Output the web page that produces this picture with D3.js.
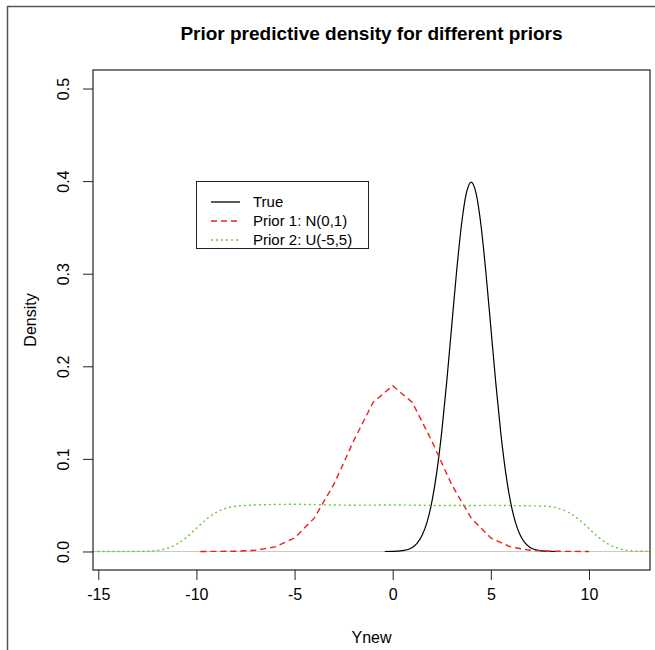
<!DOCTYPE html>
<html>
<head>
<meta charset="utf-8">
<script src="https://cdn.jsdelivr.net/npm/d3@7"></script>
<style>
  body { margin: 0; background: #fff; }
  text { font-family: "Liberation Sans", Arial, sans-serif; fill: #000; }
</style>
</head>
<body>
<svg id="chart"></svg>
<script>
var svgWidth = 655,
    svgHeight = 650,
    margin = {top: 70, right: 5, bottom: 80, left: 93},
    width = svgWidth - margin.left - margin.right,
    height = svgHeight - margin.top - margin.bottom;

// values
var xTicks = [-15, -10, -5, 0, 5, 10];
var yTicks = [0.0, 0.1, 0.2, 0.3, 0.4, 0.5];

var trueX = [-0.4, 0, 0.5, 1, 1.25, 1.5, 1.75, 2, 2.25, 2.5, 2.75, 3, 3.25, 3.5, 3.75, 4,
             4.25, 4.5, 4.75, 5, 5.25, 5.5, 5.75, 6, 6.25, 6.5, 7, 7.5, 8, 8.4];
var trueY = [0.0000, 0.0001, 0.0009, 0.0044, 0.0091, 0.0175, 0.0317, 0.0540, 0.0863, 0.1295, 0.1826, 0.2420, 0.3011, 0.3521, 0.3867, 0.3990,
             0.3867, 0.3521, 0.3011, 0.2420, 0.1826, 0.1295, 0.0863, 0.0540, 0.0317, 0.0175, 0.0044, 0.0009, 0.0001, 0.0000];

var prior1X = [-9.8, -9, -8, -7, -6, -5, -4, -3, -2, -1, 0, 1, 2, 3, 4, 5, 6, 7, 8, 9, 10];
var prior1Y = [0.0000, 0.0001, 0.0003, 0.0013, 0.0049, 0.0146, 0.0360, 0.0724, 0.1190, 0.1610, 0.1790,
               0.1610, 0.1190, 0.0724, 0.0360, 0.0146, 0.0049, 0.0013, 0.0003, 0.0001, 0.0000];

var prior2X = [-15.3, -14, -13, -12.5, -12, -11.5, -11, -10.5, -10, -9.5, -9, -8.5, -8, -7.5, -7,
               -6, -5, -4, -3, -2, -1, 0, 1, 2, 3, 4, 5, 6, 7, 7.5, 8, 8.5, 9, 9.5, 10, 10.5, 11, 11.5, 12, 12.5, 13, 13.5];
var prior2Y = [0.0000, 0.0000, 0.0001, 0.0003, 0.0011, 0.0033, 0.0079, 0.0154, 0.0250, 0.0346, 0.0421, 0.0467, 0.0489, 0.0497, 0.0502,
               0.0507, 0.0510, 0.0506, 0.0502, 0.0500, 0.0501, 0.0502, 0.0500, 0.0497, 0.0496, 0.0497, 0.0498, 0.0496, 0.0493, 0.0492, 0.0486, 0.0463, 0.0418, 0.0343, 0.0248, 0.0152, 0.0078, 0.0033, 0.0011, 0.0003, 0.0001, 0.0000];

var legendLabels = ["True", "Prior 1: N(0,1)", "Prior 2: U(-5,5)"];
var lineColors = ["#000000", "#e8231f", "#6cc63c"];
var lineDash = [null, "6,4", "2,3"];
// the red curve shows corners, the other two are smooth
var lineCurves = [d3.curveMonotoneX, d3.curveLinear, d3.curveMonotoneX];

var series = [
  trueX.map(function(x, i) { return {x: x, y: trueY[i]}; }),
  prior1X.map(function(x, i) { return {x: x, y: prior1Y[i]}; }),
  prior2X.map(function(x, i) { return {x: x, y: prior2Y[i]}; })
];

var xScale = d3.scaleLinear().domain([-15.27, 13.11]).range([0, width]);
var yScale = d3.scaleLinear().domain([-0.02, 0.52]).range([height, 0]);

var svg = d3.select('#chart')
    .attr('width', svgWidth)
    .attr('height', svgHeight);

// outer frame of the screenshot
svg.append('rect')
    .attr('x', 7.5).attr('y', 6.5)
    .attr('width', 700).attr('height', 700)
    .attr('fill', 'none')
    .attr('stroke', '#555')
    .attr('stroke-width', 1.5);

svg.append('text')
    .attr('x', margin.left + width / 2)
    .attr('y', 40)
    .attr('text-anchor', 'middle')
    .style('font-size', '19px')
    .style('font-weight', 'bold')
    .text('Prior predictive density for different priors');

var g = svg.append('g')
    .attr('transform', 'translate(' + margin.left + ',' + margin.top + ')');

g.append('clipPath').attr('id', 'clip')
  .append('rect').attr('width', width).attr('height', height);

// zero line
g.append('line')
    .attr('x1', 0).attr('x2', width)
    .attr('y1', yScale(0)).attr('y2', yScale(0))
    .attr('stroke', '#c8c8c8')
    .attr('stroke-width', 1);

g.selectAll('.curve')
    .data(series)
    .enter().append('path')
    .attr('class', 'curve')
    .attr('clip-path', 'url(#clip)')
    .attr('d', function(d, i) {
        return d3.line()
            .x(function(p) { return xScale(p.x); })
            .y(function(p) { return yScale(p.y); })
            .curve(lineCurves[i])(d);
    })
    .attr('fill', 'none')
    .attr('stroke', function(d, i) { return lineColors[i]; })
    .attr('stroke-width', function(d, i) { return i == 0 ? 1.2 : 1.4; })
    .attr('stroke-dasharray', function(d, i) { return lineDash[i]; });

// box
g.append('rect')
    .attr('x', 0).attr('y', 0)
    .attr('width', width).attr('height', height)
    .attr('fill', 'none')
    .attr('stroke', '#222')
    .attr('stroke-width', 1.2);

var xAxis = d3.axisBottom(xScale).tickValues(xTicks).tickSize(10).tickPadding(9)
    .tickFormat(function(d) { return String(d); });
var yAxis = d3.axisLeft(yScale).tickValues(yTicks).tickSize(10)
    .tickFormat(d3.format('.1f'));

var xa = g.append('g')
    .attr('transform', 'translate(0,' + height + ')')
    .call(xAxis);
xa.select('.domain').remove();
xa.selectAll('line').attr('stroke', '#222');
xa.selectAll('text').style('font-size', '16px');

var ya = g.append('g').call(yAxis);
ya.select('.domain').remove();
ya.selectAll('line').attr('stroke', '#222');
ya.selectAll('text')
    .style('font-size', '16px')
    .attr('text-anchor', 'middle')
    .attr('dy', null)
    .attr('x', null)
    .attr('transform', 'translate(-30,0) rotate(-90)')
    .attr('dominant-baseline', 'central');

svg.append('text')
    .attr('x', margin.left + width / 2)
    .attr('y', 643)
    .attr('text-anchor', 'middle')
    .style('font-size', '16px')
    .text('Ynew');

svg.append('text')
    .attr('transform', 'translate(36,' + (margin.top + height / 2) + ') rotate(-90)')
    .attr('text-anchor', 'middle')
    .style('font-size', '16px')
    .text('Density');

// legend
var legend = svg.append('g').attr('transform', 'translate(196,181)');
legend.append('rect')
    .attr('x', 0.5).attr('y', 0.5)
    .attr('width', 172).attr('height', 67)
    .attr('fill', '#fff')
    .attr('stroke', '#222');

var items = legend.selectAll('.item')
    .data(legendLabels)
    .enter().append('g')
    .attr('class', 'item')
    .attr('transform', function(d, i) { return 'translate(0,' + (21 + i * 19) + ')'; });

items.append('line')
    .attr('x1', 15).attr('x2', 44)
    .attr('stroke', function(d, i) { return lineColors[i]; })
    .attr('stroke-width', 1.3)
    .attr('stroke-dasharray', function(d, i) { return lineDash[i]; });

items.append('text')
    .attr('x', 57)
    .attr('dy', '0.35em')
    .style('font-size', '15px')
    .text(function(d) { return d; });
</script>
</body>
</html>
